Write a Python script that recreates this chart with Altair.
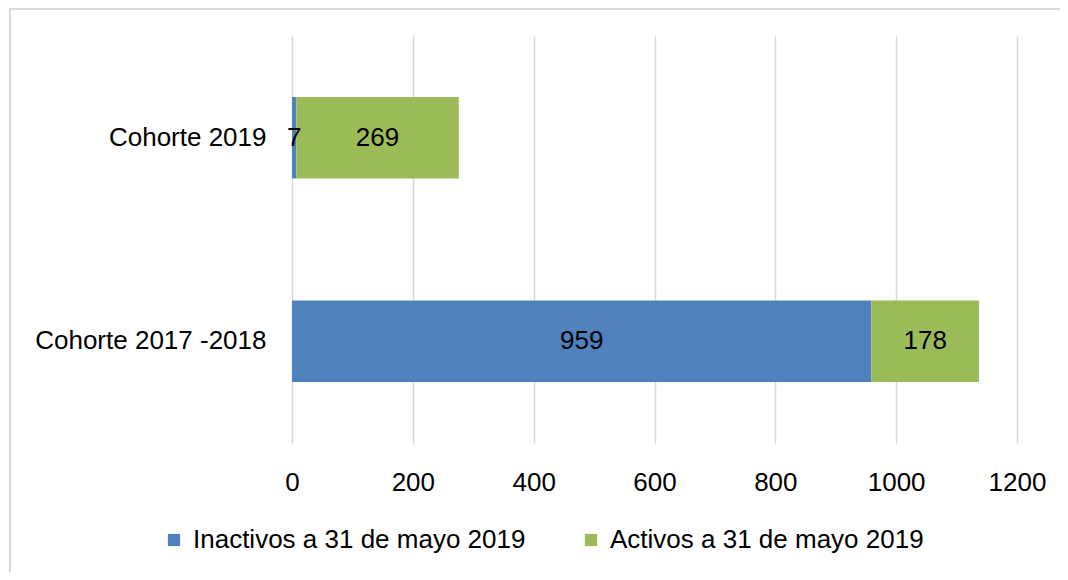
import altair as alt
import pandas as pd

cohorts = ["Cohorte 2019", "Cohorte 2017 -2018"]
series = ["Inactivos a 31 de mayo 2019", "Activos a 31 de mayo 2019"]
inactivos = [7, 959]
activos = [269, 178]
colors = ["#4f81bd", "#9bbb59"]
x_ticks = [0, 200, 400, 600, 800, 1000, 1200]

rows = []
for i, c in enumerate(cohorts):
    rows.append({"cohorte": c, "serie": series[0], "valor": inactivos[i], "orden": 0,
                 "start": 0, "end": inactivos[i]})
    rows.append({"cohorte": c, "serie": series[1], "valor": activos[i], "orden": 1,
                 "start": inactivos[i], "end": inactivos[i] + activos[i]})
df = pd.DataFrame(rows)
df["mid"] = (df["start"] + df["end"]) / 2

FONT = "Liberation Sans"
FS = 26

y_enc = alt.Y("cohorte:N", sort=cohorts, title=None,
              scale=alt.Scale(paddingInner=0.6, paddingOuter=0.3),
              axis=alt.Axis(labelFontSize=FS, labelFont=FONT, labelColor="#000000",
                            ticks=False, domain=False, labelPadding=26, labelLimit=400))

bars = alt.Chart(df).mark_bar().encode(
    x=alt.X("start:Q", title=None,
            scale=alt.Scale(domain=[0, 1200], nice=False),
            axis=alt.Axis(values=x_ticks, format="d", labelFontSize=FS, labelFont=FONT,
                          labelColor="#000000", ticks=False, domain=False,
                          labelFlush=False,
                          grid=True, gridColor="#d9d9d9", gridWidth=1.5,
                          labelPadding=26)),
    x2="end:Q",
    y=y_enc,
    color=alt.Color("serie:N", sort=series,
                    scale=alt.Scale(domain=series, range=colors),
                    legend=alt.Legend(title=None, orient="none", direction="horizontal",
                                      legendX=-131, legendY=491,
                                      symbolType="square", symbolSize=150,
                                      symbolStrokeWidth=0, labelFontSize=FS,
                                      labelFont=FONT, labelColor="#000000",
                                      columnPadding=52, labelOffset=6,
                                      labelLimit=500)),
)

labels = alt.Chart(df).mark_text(fontSize=26, font=FONT, color="#000000").encode(
    x=alt.X("mid:Q"),
    y=alt.Y("cohorte:N", sort=cohorts),
    text="valor:Q",
)

border = alt.Chart(pd.DataFrame({"a": [0]})).mark_rect(
    fill="#ffffff", fillOpacity=0, stroke="#d9d9d9", strokeWidth=2, clip=False
).encode(
    x=alt.value(-282), x2=alt.value(900),
    y=alt.value(-27), y2=alt.value(700),
)

chart = alt.layer(border, bars, labels).properties(
    width=725, height=407,
    background="#ffffff",
    autosize=alt.AutoSizeParams(type="none"),
    padding={"left": 284, "top": 28, "right": 43, "bottom": 129},
).configure_view(stroke=None)

chart.save("out.html", embed_options={"renderer": "svg", "actions": False})
